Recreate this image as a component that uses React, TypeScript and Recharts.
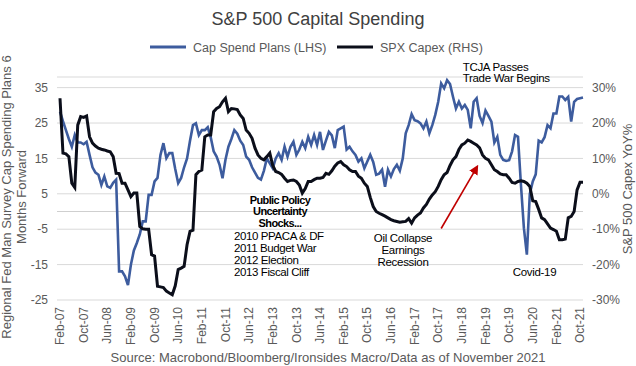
import React from 'react';
import { LineChart, Line, XAxis, YAxis, CartesianGrid, ReferenceLine } from 'recharts';

const MONTH_NAMES = ['Jan', 'Feb', 'Mar', 'Apr', 'May', 'Jun', 'Jul', 'Aug', 'Sep', 'Oct', 'Nov', 'Dec'];

// monthly, Feb-07 .. Nov-21 (one row = 12 months starting Feb)
const capSpend = [
  28.2, 25.5, 23, 20.5, 18.3, 21.6, 19.5, 19.5, 19, 19.7, 16, 12.5,
  11, 10.4, 7.5, 9.9, 7.1, 6.7, 8.1, 9, -16.9, -16.9, -18.3, -20.8,
  -15, -11, -8.9, -6.5, -2.8, -2.8, 4.7, 4.7, 8.5, 9.5, 16, 19.3,
  15.1, 16.5, 16.5, 12, 8, 9.5, 12.5, 15, 20, 24.4, 24.9, 21.6,
  23, 23, 23.8, 21, 17, 15.5, 13.2, 9.4, 14.6, 18.3, 20.5, 23,
  22, 20, 18.8, 15.5, 14.6, 12.5, 11, 9.5, 9, 11.5, 15, 13.6,
  12.2, 15, 16.5, 14.6, 18.3, 15.5, 18.3, 19.7, 16, 17.5, 19.7, 17.9,
  21.1, 18.8, 21.6, 18.8, 22.5, 17.4, 20, 22.5, 21.5, 17.9, 23, 23.5,
  24, 17.5, 18.3, 17, 16, 14.1, 15, 12.2, 14.1, 16, 14, 10.4,
  10.7, 11.8, 7, 11.8, 9.9, 12, 13.2, 11.5, 15, 22.1, 24.4, 27.5,
  25.8, 25.5, 24.9, 23.5, 25.4, 22.1, 24.4, 27.3, 31, 36.2, 34.8, 37.1,
  36, 32.4, 29.1, 31, 29.1, 30.1, 28.7, 23.5, 31, 32, 27, 25,
  28.5, 27, 25.4, 19.5, 21.1, 16, 14.6, 14.3, 14.5, 17, 21.6, 21.1,
  7.5, -4.7, -12.2, 5, 8.5, 10.5, 20, 19.5, 21, 24.4, 23.5, 27.7,
  27.7, 32.5, 32.5, 31.5, 32.4, 25.4, 31, 31.8, 32, 32.2,
];

const spxCapex = [
  27, 11.5, 11.3, 10.5, 3, 1.8, 19.4, 21.8, 21.6, 22, 16.1, 14.3,
  13.5, 12.9, 12.6, 12.4, 12.1, 11.9, 10.5, 5.8, 5.7, 3, 3, 1.1,
  -0.8, 0.2, 0.2, -9.2, -9.9, -10, -10, -17.2, -17.6, -26.1, -26.3, -26.5,
  -27.5, -28, -28.5, -26, -21.4, -21, -20.5, -14.4, -10.6, -10.3, 5.4, 6.3,
  6.7, 16.1, 16.6, 16.6, 23.2, 24.1, 24.6, 26, 27, 23.2, 24.1, 24,
  23.8, 22.3, 21.3, 18, 17.1, 15.7, 12.9, 11, 10, 9.6, 10.5, 11.5,
  8, 6.3, 6, 5.5, 4.4, 3.5, 3.8, 3.9, 3.5, 2.5, 0.2, 1.5,
  3.5, 3.5, 4, 4.4, 4.4, 4.6, 5.8, 5.5, 6.5, 7.8, 8.7, 9.1,
  8.2, 7.7, 6.8, 6.3, 6.3, 5, 4.4, 3, 2.1, -1, -3.6, -5,
  -5.5, -5.9, -6.3, -6.8, -7.3, -7.6, -7.8, -8, -7.9, -7.8, -7, -8.3,
  -6.8, -6, -5.4, -4, -3, -1.5, -0.3, 0.6, 2.1, 4, 5.4, 6,
  8, 9.6, 10.5, 12.5, 13.8, 14.3, 15.2, 14.8, 14.3, 13.8, 13, 11,
  10, 9.6, 8.2, 6.8, 6.3, 5.6, 5.4, 5.4, 4.4, 3.2, 3, 3.5,
  3.7, 3.5, 3, 2.1, -2, -2.2, -4.4, -6.8, -7.3, -8.5, -9.7, -10.1,
  -10.6, -13, -13, -12.8, -6.8, -6.4, -5, 1.1, 3.3, 3.3,
];

const months = capSpend.map((_, i) => {
  const m = 1 + i;
  const yr = 7 + Math.floor(m / 12);
  return `${MONTH_NAMES[m % 12]}-${String(yr).padStart(2, '0')}`;
});

const leftTicks = [-25, -15, -5, 5, 15, 25, 35];
const rightTicks = [-30, -20, -10, 0, 10, 20, 30];

const data = months.map((month, i) => ({ month, capSpend: capSpend[i], spxCapex: spxCapex[i] }));

const BLUE = '#3D5C9E';
const DARK = '#0B0E1A';
const GREY = '#595959';
const FONT = '"Liberation Sans", Arial, sans-serif';

const MonthTick = (props: any) => {
  const { x, y, payload } = props;
  return (
    <text x={x} y={y} transform={`rotate(-90, ${x}, ${y})`} textAnchor="end" dy="0.35em" fill={GREY} fontSize={12} fontFamily={FONT}>
      {payload.value}
    </text>
  );
};

const Arrow = (props: any) => {
  const { x1, y1, x2, y2 } = props;
  return (
    <g>
      <defs>
        <marker id="redHead" markerWidth="6" markerHeight="6" refX="4" refY="3" orient="auto" markerUnits="strokeWidth">
          <path d="M0,0 L6,3 L0,6 z" fill="#C00000" />
        </marker>
      </defs>
      <line x1={x1} y1={y1} x2={x2} y2={y2} stroke="#C00000" strokeWidth={1.6} markerEnd="url(#redHead)" />
    </g>
  );
};

const App: React.FC = () => {
  return (
    <div style={{ position: 'absolute', left: 0, top: 0, width: 636, height: 366, background: '#fff', fontFamily: FONT }}>
      <LineChart width={636} height={366} data={data} margin={{ top: 77, right: 8, bottom: 16, left: 7 }}>
        <CartesianGrid vertical={false} stroke="#D9D9D9" />
        <XAxis
          dataKey="month"
          interval={7}
          tickSize={0}
          tickMargin={7}
          axisLine={false}
          tickLine={false}
          height={50}
          padding={{ left: 3, right: 0 }}
          tick={<MonthTick />}
        />
        <YAxis
          domain={[-25, 38]}
          ticks={leftTicks}
          width={50}
          tickSize={0}
          tickMargin={9}
          axisLine={false}
          tickLine={false}
          tick={{ fill: GREY, fontSize: 12, fontFamily: FONT }}
        />
        <YAxis
          yAxisId="right"
          orientation="right"
          domain={[-30, 33]}
          ticks={rightTicks}
          width={45}
          tickSize={0}
          tickMargin={9}
          axisLine={false}
          tickLine={false}
          tickFormatter={(v: number) => `${v}%`}
          tick={{ fill: GREY, fontSize: 12, fontFamily: FONT, textAnchor: 'start' }}
        />
        <ReferenceLine y={0} stroke="#CFCFCF" />
        <Line dataKey="capSpend" stroke={BLUE} strokeWidth={2.6} dot={false} isAnimationActive={false} />
        <Line yAxisId="right" dataKey="spxCapex" stroke={DARK} strokeWidth={3} dot={false} isAnimationActive={false} />
        <ReferenceLine
          yAxisId="right"
          segment={[{ x: months[129], y: -9.8 }, { x: months[141], y: 7.4 }]}
          shape={<Arrow />}
        />
      </LineChart>

      <svg width={636} height={366} style={{ position: 'absolute', left: 0, top: 0, pointerEvents: 'none' }} fontFamily={FONT}>
        <text x={318} y={25} textAnchor="middle" fontSize={18} fill="#404040">S&amp;P 500 Capital Spending</text>

        <line x1={150} y1={47} x2={186} y2={47} stroke={BLUE} strokeWidth={3} />
        <text x={193} y={51.5} fontSize={12.5} fill={GREY}>Cap Spend Plans (LHS)</text>
        <line x1={337} y1={47} x2={373} y2={47} stroke={DARK} strokeWidth={3} />
        <text x={380} y={51.5} fontSize={12.5} fill={GREY}>SPX Capex (RHS)</text>

        <text transform="translate(10.5,197) rotate(-90)" textAnchor="middle" fontSize={13} fill={GREY}>Regional Fed Man Survey Cap Spending Plans 6</text>
        <text transform="translate(25.5,197) rotate(-90)" textAnchor="middle" fontSize={13} fill={GREY}>Months Forward</text>
        <text transform="translate(632,189) rotate(-90)" textAnchor="middle" fontSize={13} fill={GREY}>S&amp;P 500 Capex YoY%</text>

        <g fontSize={11} fill="#000" fontWeight="bold" textAnchor="middle" letterSpacing={-0.6}>
          <text x={280} y={203.5}>Public Policy</text>
          <text x={280} y={215.3}>Uncertainty</text>
          <text x={280} y={227.1}>Shocks...</text>
        </g>
        <g fontSize={11.5} fill="#000" letterSpacing={-0.4}>
          <text x={234} y={240.3}>2010 PPACA &amp; DF</text>
          <text x={234} y={252.1}>2011 Budget War</text>
          <text x={234} y={263.9}>2012 Election</text>
          <text x={234} y={275.7}>2013 Fiscal Cliff</text>
        </g>
        <g fontSize={11.5} fill="#000" textAnchor="middle" letterSpacing={-0.3}>
          <text x={403} y={242}>Oil Collapse</text>
          <text x={403} y={253.8}>Earnings</text>
          <text x={403} y={265.6}>Recession</text>
          <text x={534.5} y={275.7}>Covid-19</text>
        </g>
        <g fontSize={11.5} fill="#000" letterSpacing={-0.3}>
          <text x={462.7} y={70.5}>TCJA Passes</text>
          <text x={462.7} y={82.3}>Trade War Begins</text>
        </g>

        <text x={328} y={362} textAnchor="middle" fontSize={13} fill={GREY}>Source: Macrobond/Bloomberg/Ironsides Macro/Data as of November 2021</text>
      </svg>
    </div>
  );
};

export default App;
